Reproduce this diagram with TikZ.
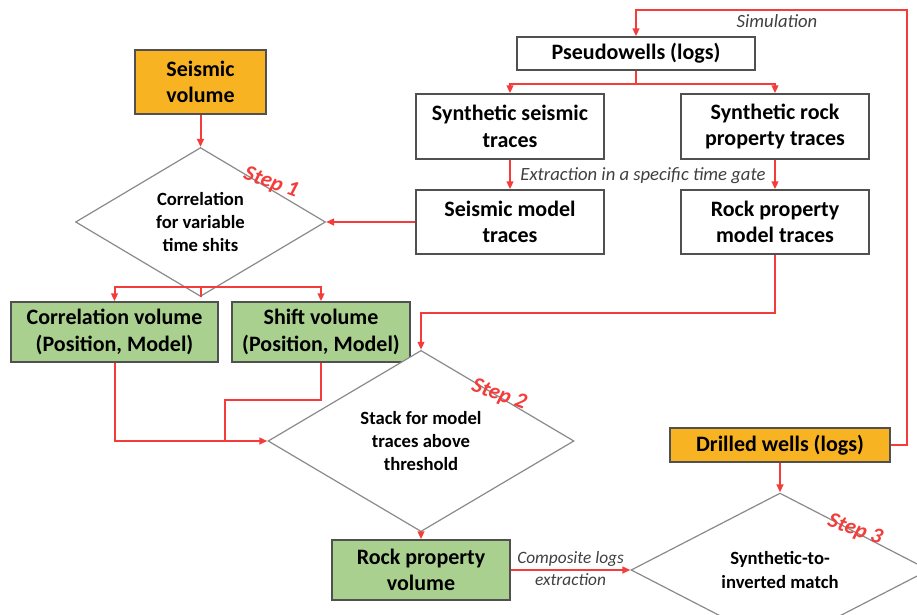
\documentclass[tikz,border=0pt]{standalone}
\usepackage{fontspec}
\setmainfont{Carlito}
\usetikzlibrary{shapes.geometric,arrows.meta}
\definecolor{redl}{HTML}{F43C3A}
\definecolor{orangef}{HTML}{F8B323}
\definecolor{greenf}{HTML}{A9D08E}
\definecolor{boxline}{HTML}{505050}
\definecolor{dline}{HTML}{8A8A8A}
\newdimen\u
\u=0.75pt
\tikzset{
  boxnode/.style={draw=boxline, line width=1.1pt, fill=white, align=center, inner sep=0pt,
    font=\fontsize{16.5pt}{20pt}\selectfont\bfseries},
  decision/.style={diamond, draw=dline, line width=0.9pt, fill=white, align=center, inner sep=0pt,
    font=\fontsize{14pt}{17.6pt}\selectfont\bfseries},
  redline/.style={draw=redl, line width=1.5pt},
  arr/.style={redline, -{Triangle[length=6pt,width=5pt]}},
  lbl/.style={font=\fontsize{13pt}{15pt}\selectfont\itshape, text=black!75, align=center, inner sep=1pt},
  biglbl/.style={lbl, font=\fontsize{14pt}{16pt}\selectfont\itshape},
  steplbl/.style={font=\fontsize{16.5pt}{18pt}\selectfont\bfseries\itshape, text=redl, rotate=-20, inner sep=0pt}
}
\begin{document}
\begin{tikzpicture}[x=0.75pt,y=-0.75pt]
\clip (0,0) rectangle (917,614);
\fill[white] (0,0) rectangle (917,614);
% boxes
\node[boxnode, fill=orangef, minimum width=131\u, minimum height=64\u] (sv) at (200.5,82) {Seismic\\volume};
\node[boxnode, minimum width=238\u, minimum height=33\u] (pw) at (636,53.5) {Pseudowells (logs)};
\node[boxnode, minimum width=188\u, minimum height=65\u] (sst) at (510,126.5) {Synthetic seismic\\traces};
\node[boxnode, minimum width=188\u, minimum height=65\u] (srp) at (775,126.5) {Synthetic rock\\property traces};
\node[boxnode, minimum width=188\u, minimum height=64\u] (smt) at (510,222) {Seismic model\\traces};
\node[boxnode, minimum width=188\u, minimum height=64\u] (rpm) at (775,222) {Rock property\\model traces};
\node[decision, minimum width=250\u, minimum height=100\u] (d1) at (200.5,222) {Correlation\\for variable\\time shits};
\node[boxnode, fill=greenf, minimum width=207\u, minimum height=60\u] (cv) at (114.5,332) {Correlation volume\\(Position, Model)};
\node[boxnode, fill=greenf, minimum width=178\u, minimum height=60\u] (shv) at (321,332) {Shift volume\\(Position, Model)};
\node[decision, minimum width=306\u, minimum height=128\u] (d2) at (421,441) {Stack for model\\traces above\\threshold};
\node[boxnode, fill=orangef, minimum width=220\u, minimum height=34\u] (dw) at (780,445) {Drilled wells (logs)};
\node[boxnode, fill=greenf, minimum width=178\u, minimum height=60\u] (rpv) at (421,570) {Rock property\\volume};
\node[decision, minimum width=298\u, minimum height=94\u] (d3) at (780,570) {Synthetic-to-\\inverted match};
% junctions
\coordinate (j1) at (200.5,287);
\coordinate (j2) at (225,400);
\coordinate (j3) at (225,441);
\coordinate (j4) at (421,313);
\coordinate (j5) at (636,84);
\coordinate (k1) at (907,10);
% connectors
\draw[arr] (sv.south) -- (d1.north);
\draw[arr] (smt.west) -- (d1.east);
\draw[redline] (d1.south) -- (j1);
\draw[arr] (j1) -| (cv.north);
\draw[arr] (j1) -| (shv.north);
\draw[arr] (cv.south) |- (d2.west);
\draw[redline] (shv.south) |- (j2) -- (j3);
\draw[arr] (rpm.south) |- (j4) -- (d2.north);
\draw[arr] (d2.south) -- (rpv.north);
\draw[arr] (rpv.east) -- node[lbl, above=1pt] {Composite logs} node[lbl, below=1pt] {extraction} (d3.west);
\draw[arr] (dw.south) -- (d3.north);
\draw[arr] (dw.east) -| (k1) -| (pw.north);
\draw[redline] (pw.south) -- (j5);
\draw[arr] (j5) -| (sst.north);
\draw[arr] (j5) -| (srp.north);
\draw[arr] (sst.south) -- (smt.north);
\draw[arr] (srp.south) -- (rpm.north);
% labels
\node[biglbl] (lsim) at (777,21) {Simulation};
\node[biglbl] (lext) at (643,176) {Extraction in a specific time gate};
\node[steplbl] (s1) at (271,183) {Step 1};
\node[steplbl] (s2) at (499,395) {Step 2};
\node[steplbl] (s3) at (855,530) {Step 3};
\end{tikzpicture}
\end{document}
